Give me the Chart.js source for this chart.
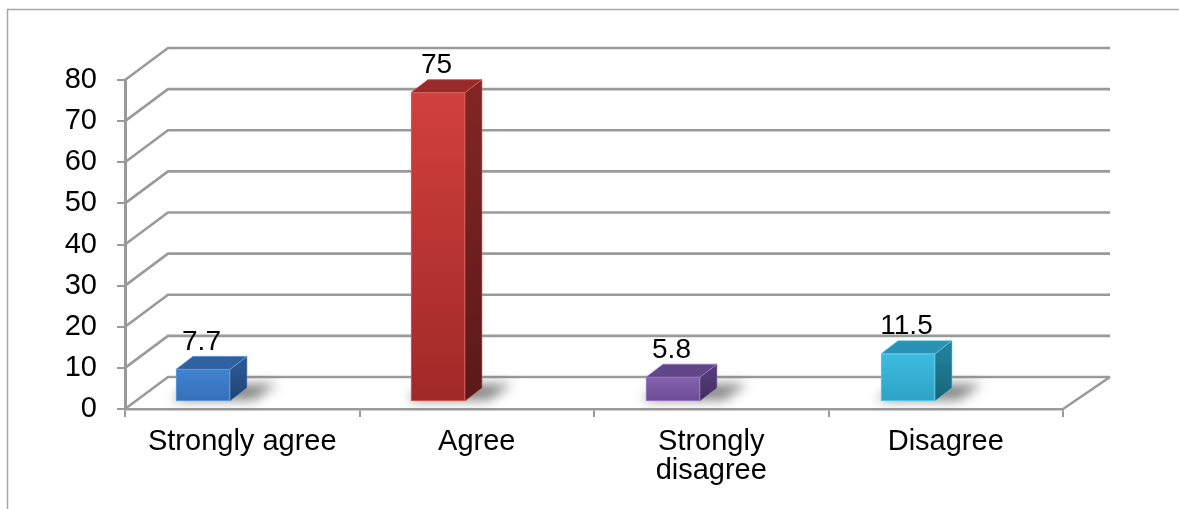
<!DOCTYPE html>
<html><head><meta charset="utf-8">
<script src="https://cdn.jsdelivr.net/npm/chart.js@4.4.1/dist/chart.umd.min.js"></script>
<style>html,body{margin:0;padding:0;background:#fff;overflow:hidden}</style>
</head><body>
<canvas id="c" width="1179" height="509"></canvas>
<script>
// ---- data ----
const categories = ['Strongly agree', 'Agree', 'Strongly disagree', 'Disagree'];
const tickLabels = ['Strongly agree', 'Agree', ['Strongly', 'disagree'], 'Disagree'];
const values = [7.7, 75, 5.8, 11.5];
const valueLabels = ['7.7', '75', '5.8', '11.5'];
const yTicks = [0, 10, 20, 30, 40, 50, 60, 70, 80];

// ---- styles ----
const FONT = "'Liberation Sans', Arial, sans-serif";
const GRID = '#9a9a9a';
const DXL = 43, DXR = 47, DY = -32;   // wall / floor depth
const BDX = 17, BDY = -13;            // bar depth
const barStyles = [
  {ft:'#4283D0', fb:'#3570BA', bd:'#6C9FDC', st:'#2A5690', sb:'#1F4271', tp:'#2F61A2'},
  {ft:'#D1403D', fb:'#A02927', bd:'#D9625F', st:'#822624', sb:'#5A1918', tp:'#982B29'},
  {ft:'#8462AE', fb:'#6D4C97', bd:'#9C80C0', st:'#513A76', sb:'#3E2C5C', tp:'#61468A'},
  {ft:'#3CBCE1', fb:'#2EA2C6', bd:'#66CBE8', st:'#217F9B', sb:'#186478', tp:'#2A93B5'}
];

const plugin3d = {
  id: 'plugin3d',
  beforeDraw(chart) {
    const ctx = chart.ctx;
    ctx.save();
    ctx.strokeStyle = '#a6a6a6';
    ctx.lineWidth = 1.5;
    ctx.strokeRect(7.5, 9.5, 1400, 700);
    ctx.restore();
  },
  beforeDatasetsDraw(chart) {
    const ctx = chart.ctx, a = chart.chartArea, ys = chart.scales.y;
    ctx.save();
    ctx.strokeStyle = GRID;
    ctx.lineWidth = 2.6;
    ctx.lineJoin = 'miter';
    yTicks.forEach(v => {
      const yF = ys.getPixelForValue(v);
      ctx.beginPath();
      ctx.moveTo(a.left, yF);
      ctx.lineTo(a.left + DXL, yF + DY);
      ctx.lineTo(a.right + DXR, yF + DY);
      ctx.stroke();
    });
    const yb = ys.getPixelForValue(0);
    ctx.beginPath();
    ctx.moveTo(a.right, yb);
    ctx.lineTo(a.right + DXR, yb + DY);
    ctx.stroke();
    // shadows
    const meta = chart.getDatasetMeta(0);
    meta.data.forEach(el => {
      const l = el.x - el.width / 2, r = el.x + el.width / 2, b = el.base;
      ctx.save();
      ctx.filter = 'blur(6px)';
      ctx.fillStyle = 'rgba(50,50,50,0.6)';
      ctx.beginPath();
      ctx.moveTo(l - 4, b - 1);
      ctx.lineTo(r + 24, b - 1);
      ctx.lineTo(r + BDX + 30, b + BDY - 4);
      ctx.lineTo(l + BDX, b + BDY - 4);
      ctx.closePath();
      ctx.fill();
      ctx.restore();
    });
    ctx.restore();
  },
  afterDatasetsDraw(chart) {
    const ctx = chart.ctx;
    const meta = chart.getDatasetMeta(0);
    ctx.save();
    meta.data.forEach((el, i) => {
      const s = barStyles[i];
      const l = el.x - el.width / 2, r = el.x + el.width / 2, t = el.y, b = el.base;
      // side face
      const g = ctx.createLinearGradient(0, t, 0, b);
      g.addColorStop(0, s.st); g.addColorStop(1, s.sb);
      ctx.fillStyle = g;
      ctx.beginPath();
      ctx.moveTo(r, t);
      ctx.lineTo(r + BDX, t + BDY);
      ctx.lineTo(r + BDX, b + BDY);
      ctx.lineTo(r, b);
      ctx.closePath();
      ctx.fill();
      ctx.strokeStyle = s.bd; ctx.lineWidth = 1; ctx.globalAlpha = 0.6; ctx.stroke(); ctx.globalAlpha = 1;
      // top face
      ctx.fillStyle = s.tp;
      ctx.beginPath();
      ctx.moveTo(l, t);
      ctx.lineTo(l + BDX, t + BDY);
      ctx.lineTo(r + BDX, t + BDY);
      ctx.lineTo(r, t);
      ctx.closePath();
      ctx.fill();
      ctx.strokeStyle = s.bd; ctx.globalAlpha = 0.7; ctx.stroke(); ctx.globalAlpha = 1;
      // value label
      ctx.fillStyle = '#000';
      ctx.font = '28px ' + FONT;
      ctx.textAlign = 'center';
      ctx.textBaseline = 'alphabetic';
      ctx.fillText(valueLabels[i], el.x - 1.5, t - 19.5);
    });
    ctx.restore();
  }
};

new Chart(document.getElementById('c'), {
  type: 'bar',
  data: {
    labels: tickLabels,
    datasets: [{
      label: 'Percent',
      data: values.map((v, i) => ({x: i, y: v})),
      xAxisID: 'x2',
      yAxisID: 'y2',
      barThickness: 54,
      borderWidth: 1,
      borderSkipped: false,
      borderColor: barStyles.map(s => s.bd),
      backgroundColor(c) {
        const chart = c.chart;
        const s = barStyles[c.dataIndex] || barStyles[0];
        if (!chart.chartArea || !chart.scales.y2 || !c.raw) return s.ft;
        const y2 = chart.scales.y2;
        const top = y2.getPixelForValue(c.raw.y), bot = y2.getPixelForValue(0);
        if (!isFinite(top) || !isFinite(bot) || top === bot) return s.ft;
        const g = chart.ctx.createLinearGradient(0, top, 0, bot);
        g.addColorStop(0, s.ft); g.addColorStop(1, s.fb);
        return g;
      }
    }]
  },
  options: {
    responsive: false,
    animation: false,
    events: [],
    layout: {padding: {left: 10, right: 116, top: 80, bottom: 0}},
    plugins: {legend: {display: false}, tooltip: {enabled: false}},
    scales: {
      x: {
        type: 'category',
        offset: true,
        afterFit(s) { s.height = 100; },
        grid: {offset: true, drawOnChartArea: false, drawTicks: true, tickLength: 8, color: GRID, lineWidth: 2},
        border: {display: true, color: GRID, width: 2.6},
        ticks: {color: '#000', font: {family: FONT, size: 29, lineHeight: 0.98}, padding: 11, maxRotation: 0, autoSkip: false}
      },
      y: {
        type: 'linear',
        min: 0, max: 80,
        afterFit(s) { s.width = 115; },
        afterBuildTicks(s) { s.ticks = yTicks.map(v => ({value: v})); },
        grid: {drawOnChartArea: false, drawTicks: true, tickLength: 8, color: GRID, lineWidth: 2},
        border: {display: true, color: GRID, width: 3},
        ticks: {color: '#000', font: {family: FONT, size: 29}, padding: 20}
      },
      x2: {
        type: 'linear', display: false, offset: false,
        min: -0.3319, max: 3.6596
      },
      y2: {
        type: 'linear', display: false,
        min: -1.945, max: 78.055
      }
    }
  },
  plugins: [plugin3d]
});
</script>
</body></html>
